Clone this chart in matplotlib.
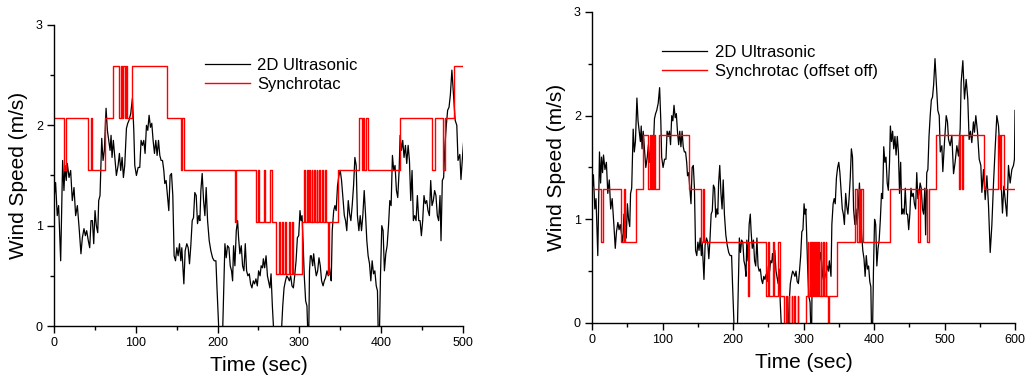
import numpy as np
import matplotlib
matplotlib.use('Agg')
import matplotlib.pyplot as plt
from matplotlib.ticker import MultipleLocator

plt.rcParams['font.family'] = ['Liberation Sans', 'DejaVu Sans']

# 2D ultrasonic anemometer trace (shared by both panels), time in s, speed in m/s
us_t = [0, 2, 4, 5.7, 8.2, 10.6, 12.2, 13.5, 15, 16.3, 18.4, 20.4, 22.4, 24.5, 26.5, 28.6,
        31, 33, 34.7, 36.7, 38.4, 40, 42, 43.7, 45.3, 47, 48.6, 50.2, 51.8, 53.5, 54.7,
        56.3, 58.4, 60, 61.6, 63.7, 65.3, 67, 68.6, 69.8, 71, 72.6, 74.7, 76.3, 78.4, 80,
        81.6, 83.3, 84.9, 86.5, 88.6, 90.2, 91.8, 93.9, 95.9, 97.6, 98.8, 100.8, 102.9,
        104.9, 106.5, 108.2, 109.8, 111.4, 113.1, 114.7, 116.3, 118, 119.6, 121.2, 122.9,
        124.5, 126.1, 127.8, 129.4, 131, 132.7, 134.3, 135.5, 137.1, 138.8, 140.4, 142,
        143.7, 145.3, 146.9, 148.6, 150.2, 151.8, 153.5, 155.1, 156.3, 157.6, 158.8, 160.4,
        162.4, 164.1, 165.7, 167.3, 169, 170.6, 172.2, 173.9, 175.5, 177.1, 178.4, 179.6,
        181.2, 182.9, 184.5, 186.1, 187.8, 189.8, 191.8, 193.9, 195.9, 198, 199.2, 204.5,
        209, 210.6, 212.2, 213.9, 215.5, 217.1, 218.4, 219.6, 221.2, 222.9, 224.5, 225.7,
        227.3, 229, 230.6, 232.2, 233.9, 235.5, 237.1, 238.8, 240.4, 242, 243.7, 245.3,
        246.9, 248.6, 250.2, 252, 253.3, 255, 256, 257.6, 259.3, 261, 262.2, 264, 265.4,
        267, 273.5, 279.7, 281.3, 283, 284.6, 286.2, 287.8, 289.4, 291, 292.7, 294.3, 296,
        297.6, 299.2, 300.8, 302, 303.3, 304.5, 306, 307.7, 309.3, 311.2, 312.4, 313.5,
        314.6, 316.3, 317.5, 319, 320.7, 322.4, 324, 325.6, 327.2, 329, 330.5, 332, 333.8,
        335.4, 336.6, 337.8, 339, 340.2, 342, 343.5, 345, 346.7, 348.4, 350, 351.6, 353.3,
        355, 356.5, 358, 359.8, 361.4, 363, 364.6, 366.3, 367.9, 369.5, 371, 372.8, 374.4,
        376, 377.6, 379.3, 381, 382.5, 384.1, 385.8, 387.4, 389, 390.7, 392.3, 394, 395.5,
        397.2, 399.2, 400.8, 402.4, 404, 405.7, 407.3, 409, 410.6, 412.2, 413.8, 415.4, 417,
        418.7, 420.3, 422, 423.2, 424.8, 426.4, 428, 429.7, 431.3, 433, 434.6, 436.2, 437.8,
        439.4, 441, 442.7, 444.3, 446, 447.6, 449.2, 450.8, 452.4, 454, 455.7, 457.3, 459,
        460.6, 462.2, 463.8, 465.4, 467, 468.7, 470.3, 472, 473.2, 474.8, 476.4, 478, 479.7,
        481.3, 483, 484.6, 486.5, 488.5, 490.5, 492.5, 494, 496.2, 497.6, 500, 502.4, 504.2,
        505.7, 508, 510.4, 512.8, 515, 517.5, 519.8, 522.2, 523.6, 526, 528.3, 530.7, 533,
        534.9, 536.8, 538.7, 541, 542.5, 544.4, 546.8, 549.2, 551.5, 553, 555.3, 557.7,
        560.1, 562.4, 564.8, 567.1, 569.5, 571.8, 574.2, 576.6, 578.4, 580.3, 582.2, 584.1,
        586, 588.4, 590.7, 593.1, 595.5, 597.8, 599.2, 600]
us_v = [1.26, 1.43, 1.10, 1.20, 0.65, 1.65, 1.35, 1.60, 1.45, 1.62, 1.48, 1.55, 1.25, 1.38,
        1.10, 1.20, 0.95, 0.72, 0.88, 0.97, 0.90, 0.95, 0.85, 0.78, 1.05, 1.05, 0.82, 1.15,
        1.00, 0.93, 1.25, 1.30, 1.87, 1.65, 1.75, 2.17, 1.95, 1.85, 1.75, 1.90, 1.68, 1.85,
        1.65, 1.50, 1.60, 1.72, 1.55, 1.68, 1.48, 1.60, 1.97, 2.02, 2.05, 2.12, 2.27, 1.95,
        1.60, 1.50, 1.58, 1.58, 1.85, 1.80, 1.85, 1.72, 2.00, 1.95, 2.10, 1.98, 2.02, 1.85,
        1.72, 1.85, 1.70, 1.85, 1.70, 1.65, 1.65, 1.55, 1.42, 1.45, 1.30, 1.15, 1.50, 1.52,
        1.30, 0.70, 0.65, 0.78, 0.70, 0.82, 0.65, 0.78, 0.60, 0.42, 0.75, 0.82, 0.78, 0.62,
        0.80, 1.05, 1.08, 1.33, 1.30, 1.02, 1.10, 1.05, 1.35, 1.52, 1.25, 1.10, 1.38, 1.05,
        0.85, 0.75, 0.68, 0.65, 0.65, 0.40, -0.60, 0.82, 0.68, 0.80, 0.78, 0.60, 0.55, 0.45,
        0.80, 0.60, 0.95, 1.05, 0.88, 0.72, 0.80, 0.60, 0.55, 0.82, 0.55, 0.50, 0.52, 0.42,
        0.38, 0.45, 0.42, 0.47, 0.40, 0.55, 0.50, 0.60, 0.58, 0.67, 0.58, 0.70, 0.50, 0.45,
        0.38, 0.52, 0.20, -0.80, 0.20, 0.38, 0.45, 0.50, 0.48, 0.45, 0.50, 0.40, 0.38, 0.50,
        0.65, 0.88, 0.90, 1.15, 1.05, 1.10, 0.85, 0.50, 0.25, 0.20, -0.30, 0.55, 0.70, 0.70,
        0.60, 0.72, 0.60, 0.50, 0.55, 0.68, 0.60, 0.45, 0.40, 0.45, 0.48, 0.55, 0.50, 0.60,
        0.52, 0.45, 0.95, 1.15, 1.20, 1.15, 1.40, 1.50, 1.55, 1.45, 1.28, 1.10, 1.05, 0.95,
        1.25, 1.12, 1.05, 1.20, 1.40, 1.68, 1.60, 1.10, 0.95, 1.10, 0.95, 1.10, 1.35, 1.10,
        0.85, 0.70, 0.62, 0.45, 0.65, 0.52, 0.55, 0.40, 0.35, -0.40, 0.50, 1.00, 0.95, 0.55,
        0.72, 0.80, 1.00, 1.25, 1.20, 1.70, 1.55, 1.60, 1.35, 1.28, 1.55, 1.90, 1.75, 1.85,
        1.68, 1.80, 1.62, 1.80, 1.65, 1.25, 1.55, 1.05, 1.10, 1.05, 1.30, 1.05, 1.05, 0.90,
        1.05, 1.30, 1.22, 1.25, 1.15, 1.10, 1.45, 1.20, 1.25, 1.35, 1.30, 1.10, 1.05, 1.30,
        0.85, 1.45, 1.48, 1.80, 2.00, 2.15, 2.18, 2.30, 2.55, 2.30, 2.05, 2.00, 1.65, 1.71,
        1.46, 1.75, 2.00, 1.94, 1.77, 1.71, 1.81, 1.44, 1.55, 1.71, 1.61, 1.87, 2.32, 2.53,
        2.16, 2.35, 2.16, 1.77, 1.85, 1.74, 1.94, 1.84, 2.00, 1.84, 1.58, 1.52, 1.26, 1.48,
        1.19, 1.42, 1.13, 0.68, 0.94, 1.35, 1.68, 2.00, 1.90, 1.68, 1.35, 1.06, 1.32, 1.19,
        1.03, 1.52, 1.35, 1.48, 1.52, 1.58, 2.05]

# Synchrotac steps: times where the reading changes, and level index held from that time
sync_t = [0, 12.2, 15.0, 41.6, 44.9, 46.5, 62.0, 71.8, 79.6, 82.0, 83.3, 85.0, 86.3, 88.6,
          89.8, 95.0, 138.0, 155.0, 157.0, 159.0, 221.0, 223.0, 246.5, 250.0, 251.0, 257.0,
          258.5, 264.5, 266.0, 272.0, 275.5, 276.5, 279.0, 280.0, 283.0, 284.0, 287.0, 288.0,
          291.5, 292.5, 303.0, 306.0, 307.0, 309.0, 310.0, 312.0, 313.0, 315.0, 316.0, 318.0,
          319.0, 321.0, 322.0, 324.5, 325.5, 327.5, 328.5, 331.5, 332.5, 335.0, 336.5, 347.0,
          373.5, 376.5, 378.0, 379.5, 381.0, 384.5, 422.5, 462.6, 465.5, 475.5, 478.0, 488.5,
          520.0, 522.4, 524.3, 526.2, 555.6, 575.9, 578.3, 580.6, 584.0, 600.0]
sync_k = [4, 3, 4, 3, 4, 3, 4, 5, 4, 5, 4, 5, 4, 5,
          4, 5, 4, 3, 4, 3, 2, 3, 2, 3, 2, 3,
          2, 3, 2, 1, 2, 1, 2, 1, 2, 1, 2, 1,
          2, 1, 2, 3, 2, 3, 2, 3, 2, 3, 2, 3,
          2, 3, 2, 3, 2, 3, 2, 3, 2, 1, 2, 3,
          4, 3, 4, 3, 4, 3, 4, 3, 4, 3, 4, 5,
          4, 5, 4, 5, 4, 5, 4, 5, 4, 4]
# speed (m/s) of each level index: with offset, and with offset off
levels_on = [0.0, 0.518, 1.036, 1.554, 2.072, 2.590]
levels_off = [0.0, -0.26, 0.26, 0.778, 1.297, 1.815]

sync_on = [levels_on[k] for k in sync_k]
sync_off = [levels_off[k] for k in sync_k]

fig = plt.figure(figsize=(10.26, 3.83), dpi=100)
ax1 = fig.add_axes([0.0526, 0.1488, 0.3986, 0.786])
ax2 = fig.add_axes([0.577, 0.1567, 0.4123, 0.812])

panels = [(ax1, sync_on, 'Synchrotac', 500, (0.369, 0.89)),
          (ax2, sync_off, 'Synchrotac (offset off)', 600, (0.1655, 0.895))]

for ax, sync, lab, xmax, anchor in panels:
    ax.plot(us_t, us_v, color='black', lw=0.9, label='2D Ultrasonic')
    ax.plot(sync_t, sync, color='#ff0000', lw=1.0, drawstyle='steps-post', label=lab)
    ax.set_xlim(0, xmax)
    ax.set_ylim(0, 3)
    ax.xaxis.set_major_locator(MultipleLocator(100))
    ax.xaxis.set_minor_locator(MultipleLocator(50))
    ax.yaxis.set_major_locator(MultipleLocator(1))
    ax.yaxis.set_minor_locator(MultipleLocator(0.5))
    ax.tick_params(which='major', direction='out', length=5, width=1, labelsize=9, pad=3)
    ax.tick_params(which='minor', direction='out', length=3, width=1)
    for s in ('top', 'right'):
        ax.spines[s].set_visible(False)
    for s in ('left', 'bottom'):
        ax.spines[s].set_linewidth(1.0)
    ax.set_xlabel('Time (sec)', fontsize=15, labelpad=5)
    ax.set_ylabel('Wind Speed (m/s)', fontsize=15, labelpad=6)
    ax.legend(loc='upper left', bbox_to_anchor=anchor, frameon=False, fontsize=12,
              handlelength=2.7, handletextpad=0.45, labelspacing=0.25,
              borderpad=0, borderaxespad=0)

fig.savefig('out.png', dpi=100)
